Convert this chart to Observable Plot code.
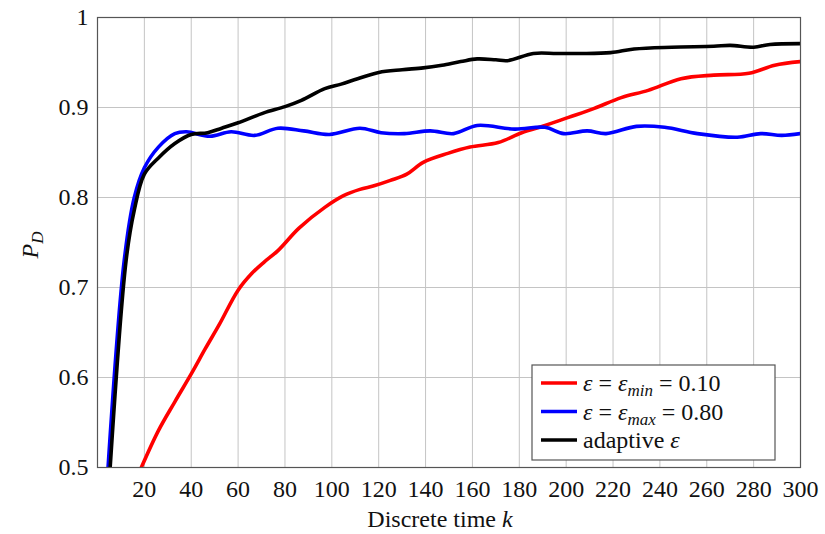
<!DOCTYPE html>
<html>
<head>
<meta charset="utf-8">
<script src="https://cdn.jsdelivr.net/npm/d3@7"></script>
<script src="https://cdn.jsdelivr.net/npm/@observablehq/plot@0.6"></script>
<style>
  html, body { margin: 0; padding: 0; background: #fff; }
  #chart { width: 825px; height: 534px; }
</style>
</head>
<body>
<div id="chart"></div>
<script>
// ---- data ----
const xTicks = [20, 40, 60, 80, 100, 120, 140, 160, 180, 200, 220, 240, 260, 280, 300];
const yTicks = [0.5, 0.6, 0.7, 0.8, 0.9, 1];

const seriesNames = ["min", "max", "adaptive"];
const seriesColors = ["#ff0000", "#0000ff", "#000000"];

const kMin = [18.7, 26, 33, 40, 46, 52, 60, 66, 71, 77, 86, 97, 105, 112, 118, 125, 132, 139, 149.5, 159, 171, 181, 191, 201, 212, 223.5, 235, 249, 263, 278, 289, 300];
const pMin = [0.5, 0.541, 0.573, 0.604, 0.632, 0.659, 0.697, 0.716, 0.728, 0.741, 0.766, 0.789, 0.802, 0.809, 0.813, 0.819, 0.826, 0.839, 0.849, 0.856, 0.861, 0.872, 0.88, 0.889, 0.899, 0.911, 0.919, 0.932, 0.936, 0.938, 0.947, 0.951];

const kMax = [4.5, 11.4, 15.7, 20, 26, 33, 38, 48, 57, 67, 77, 88, 99, 112, 121, 131, 142, 152, 162, 178, 191, 199, 209, 217, 230, 242, 256, 273, 283, 292, 300];
const pMax = [0.5, 0.73, 0.80, 0.833, 0.856, 0.871, 0.873, 0.868, 0.873, 0.869, 0.877, 0.874, 0.870, 0.877, 0.872, 0.871, 0.874, 0.871, 0.880, 0.876, 0.878, 0.871, 0.874, 0.871, 0.879, 0.878, 0.871, 0.867, 0.871, 0.869, 0.871];

const kAdaptive = [5.4, 12.2, 15.7, 20, 26, 33, 40, 47, 53, 60, 71, 80, 87, 97, 104, 111, 120, 130, 139, 147, 155, 162, 170, 175, 186, 196, 206, 219, 229, 245, 263, 270, 280, 287, 300];
const pAdaptive = [0.5, 0.73, 0.786, 0.826, 0.844, 0.86, 0.87, 0.872, 0.877, 0.883, 0.894, 0.901, 0.908, 0.921, 0.926, 0.932, 0.939, 0.942, 0.944, 0.947, 0.951, 0.954, 0.953, 0.952, 0.96, 0.96, 0.96, 0.961, 0.965, 0.967, 0.968, 0.969, 0.967, 0.97, 0.971];

// ---- build table ----
const rows = [];
[[kMin, pMin], [kMax, pMax], [kAdaptive, pAdaptive]].forEach(([ks, ps], i) => {
  ks.forEach((k, j) => rows.push({series: seriesNames[i], k, p: ps[j]}));
});

const FONT = "'Liberation Serif', serif";

const plot = Plot.plot({
  width: 825,
  height: 534,
  marginLeft: 97,
  marginRight: 25,
  marginTop: 17,
  marginBottom: 67,
  style: {fontSize: "24px", color: "#111", background: "#fff"},
  x: {domain: [0, 300], ticks: xTicks, tickSize: 0, tickPadding: 12, label: null},
  y: {domain: [0.5, 1], ticks: yTicks, tickSize: 0, tickPadding: 9, label: null,
      tickFormat: d => d === 1 ? "1" : d.toFixed(1)},
  color: {domain: seriesNames, range: seriesColors},
  marks: [
    Plot.gridX(xTicks, {stroke: "#c4c4c4", strokeOpacity: 1, strokeWidth: 1}),
    Plot.gridY(yTicks, {stroke: "#c4c4c4", strokeOpacity: 1, strokeWidth: 1}),
    Plot.line(rows, {x: "k", y: "p", z: "series", stroke: "series", strokeWidth: 3.6,
                     curve: "catmull-rom", clip: true}),
    Plot.frame({stroke: "#555", strokeWidth: 1.2})
  ]
});

document.getElementById("chart").appendChild(plot);

// ---- axis labels ----
const svg = d3.select(plot);

const xl = svg.append("text")
  .attr("x", 440).attr("y", 527)
  .attr("text-anchor", "middle")
  .attr("font-size", 24).attr("fill", "#111");
xl.append("tspan").text("Discrete time ");
xl.append("tspan").attr("font-style", "italic").text("k");

const yl = svg.append("text")
  .attr("transform", "translate(38,245) rotate(-90)")
  .attr("text-anchor", "middle")
  .attr("font-size", 24).attr("fill", "#111");
yl.append("tspan").attr("font-style", "italic").text("P");
yl.append("tspan").attr("font-style", "italic").attr("font-size", 17).attr("dy", 5).text("D");

// ---- legend ----
const legendParts = [
  [["ε", true, false], [" = ", false, false], ["ε", true, false], ["min", true, true], [" = 0.10", false, false]],
  [["ε", true, false], [" = ", false, false], ["ε", true, false], ["max", true, true], [" = 0.80", false, false]],
  [["adaptive ", false, false], ["ε", true, false]]
];
const lg = svg.append("g");
lg.append("rect").attr("x", 532).attr("y", 365).attr("width", 243).attr("height", 95)
  .attr("fill", "#fff").attr("stroke", "#555").attr("stroke-width", 1.2);
legendParts.forEach((parts, i) => {
  const cy = 383 + i * 28.5;
  lg.append("line").attr("x1", 541).attr("x2", 577).attr("y1", cy).attr("y2", cy)
    .attr("stroke", seriesColors[i]).attr("stroke-width", 3.6);
  const t = lg.append("text").attr("x", 583).attr("y", cy + 8)
    .attr("text-anchor", "start")
    .attr("font-size", 24).attr("fill", "#111")
    .attr("xml:space", "preserve").style("white-space", "pre");
  let prevSub = false;
  parts.forEach(([s, it, sub]) => {
    const ts = t.append("tspan").text(s);
    if (it) ts.attr("font-style", "italic");
    if (sub) ts.attr("font-size", 17).attr("dy", 5);
    else if (prevSub) ts.attr("dy", -5);
    prevSub = sub;
  });
});

// force the serif face on every text node (inline, important)
plot.style.setProperty("font-family", FONT, "important");
svg.selectAll("text, tspan").each(function () {
  this.setAttribute("font-family", "Liberation Serif");
  this.style.setProperty("font-family", FONT, "important");
});
</script>
</body>
</html>
